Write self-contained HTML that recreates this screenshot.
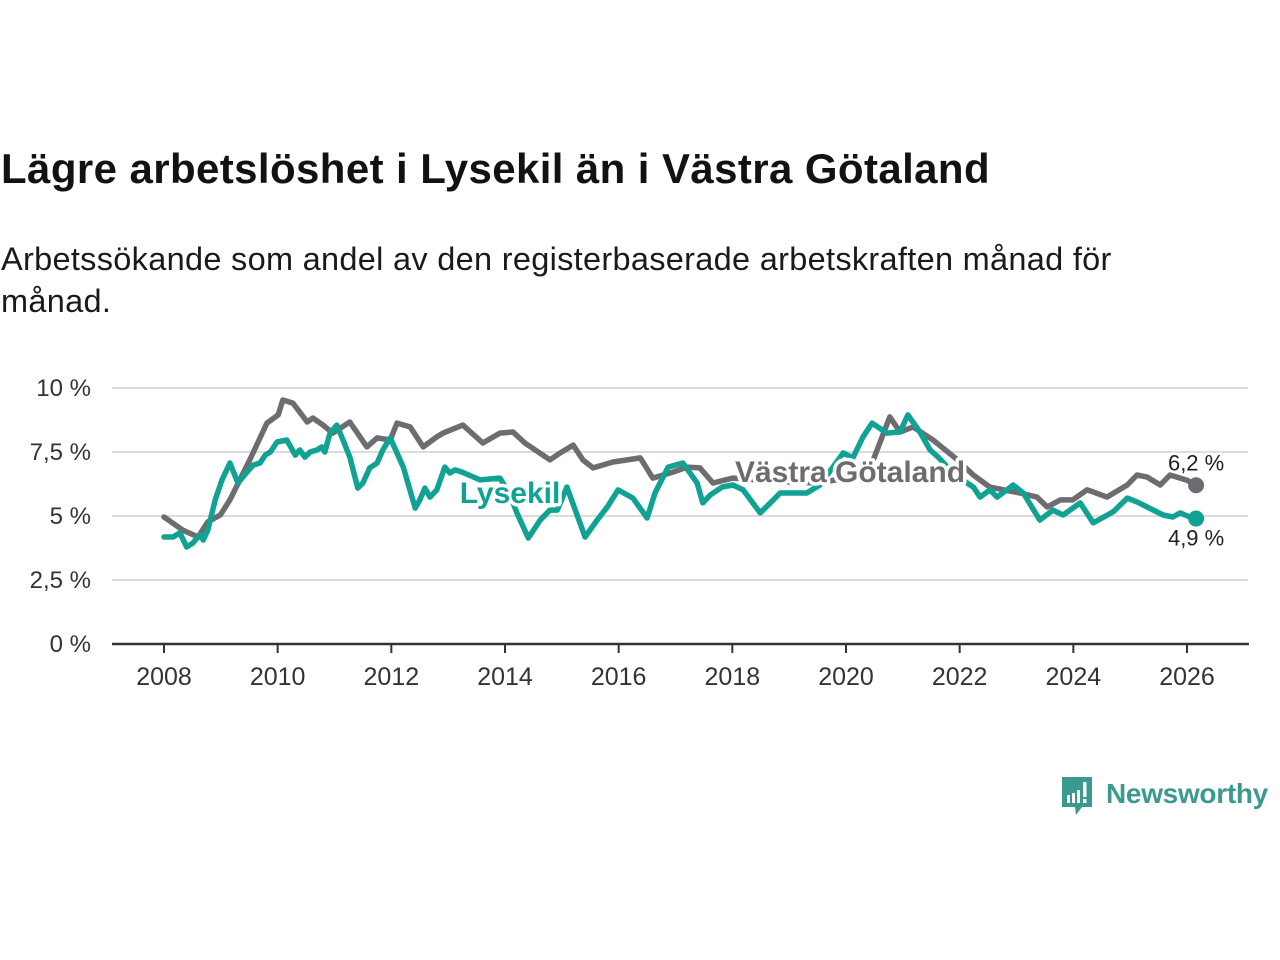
<!DOCTYPE html>
<html><head><meta charset="utf-8"><style>
body{margin:0;width:1280px;height:960px;background:#fff;font-family:"Liberation Sans",sans-serif;overflow:hidden;position:relative}
#title{position:absolute;left:1px;top:145px;font-size:42px;font-weight:bold;color:#121212;white-space:nowrap;letter-spacing:0.4px}
#sub{position:absolute;left:1px;top:238px;font-size:32.5px;color:#1a1a1a;line-height:42px;width:1175px;letter-spacing:0.3px}
svg{position:absolute;left:0;top:0}
</style></head><body>
<div id="title">Lägre arbetslöshet i Lysekil än i Västra Götaland</div>
<div id="sub">Arbetssökande som andel av den registerbaserade arbetskraften månad för månad.</div>
<svg id="chart" width="1280" height="960"></svg>
<script>
const yTicks=[0,2.5,5,7.5,10];
const yTickLabels=["0 %","2,5 %","5 %","7,5 %","10 %"];
const xTicks=[2008,2010,2012,2014,2016,2018,2020,2022,2024,2026];
const grayYears=[2008.00,2008.33,2008.60,2008.77,2008.99,2009.16,2009.51,2009.81,2010.01,2010.09,2010.27,2010.52,2010.62,2010.80,2010.97,2011.27,2011.57,2011.75,2011.98,2012.10,2012.33,2012.56,2012.80,2012.91,2013.26,2013.61,2013.91,2014.14,2014.35,2014.79,2014.97,2015.20,2015.37,2015.55,2015.90,2016.38,2016.60,2016.96,2017.20,2017.43,2017.66,2018.01,2018.52,2019.02,2019.51,2020.00,2020.48,2020.77,2020.95,2021.18,2021.53,2021.92,2022.24,2022.53,2023.06,2023.36,2023.54,2023.77,2023.99,2024.24,2024.35,2024.59,2024.95,2025.12,2025.30,2025.53,2025.70,2026.00,2026.16];
const grayValues=[4.96,4.45,4.18,4.77,5.04,5.63,7.19,8.63,8.95,9.53,9.41,8.67,8.83,8.55,8.24,8.67,7.70,8.05,7.97,8.63,8.48,7.70,8.09,8.24,8.55,7.85,8.24,8.28,7.85,7.19,7.46,7.77,7.19,6.88,7.11,7.27,6.48,6.72,6.91,6.88,6.29,6.48,6.40,6.33,6.29,6.48,7.19,8.87,8.28,8.48,7.97,7.27,6.60,6.13,5.90,5.74,5.35,5.63,5.63,6.02,5.94,5.74,6.21,6.60,6.52,6.21,6.60,6.40,6.2];
const tealYears=[2008.00,2008.16,2008.28,2008.40,2008.51,2008.63,2008.69,2008.77,2008.90,2009.02,2009.16,2009.30,2009.46,2009.57,2009.69,2009.78,2009.87,2009.99,2010.16,2010.31,2010.39,2010.48,2010.57,2010.69,2010.78,2010.83,2010.92,2011.04,2011.15,2011.27,2011.41,2011.50,2011.62,2011.75,2011.85,2011.98,2012.10,2012.21,2012.42,2012.50,2012.59,2012.68,2012.80,2012.94,2013.03,2013.12,2013.24,2013.56,2013.91,2014.09,2014.21,2014.41,2014.62,2014.79,2014.92,2015.09,2015.41,2015.62,2015.80,2015.99,2016.25,2016.50,2016.64,2016.87,2017.13,2017.38,2017.48,2017.61,2017.82,2018.01,2018.19,2018.49,2018.72,2018.84,2019.31,2019.54,2019.95,2020.12,2020.30,2020.46,2020.72,2020.95,2021.09,2021.30,2021.48,2021.62,2021.92,2022.24,2022.36,2022.53,2022.66,2022.83,2022.94,2023.12,2023.41,2023.64,2023.82,2024.12,2024.35,2024.70,2024.95,2025.12,2025.30,2025.58,2025.75,2025.88,2026.05,2026.16];
const tealValues=[4.18,4.18,4.34,3.79,3.95,4.26,4.06,4.45,5.63,6.41,7.07,6.29,6.72,6.99,7.07,7.38,7.50,7.89,7.97,7.38,7.58,7.30,7.50,7.58,7.70,7.50,8.24,8.55,7.97,7.30,6.09,6.29,6.88,7.07,7.58,8.05,7.46,6.91,5.31,5.63,6.09,5.74,6.02,6.91,6.68,6.80,6.72,6.41,6.48,5.82,5.12,4.14,4.84,5.23,5.23,6.13,4.18,4.84,5.35,6.02,5.70,4.92,5.90,6.91,7.07,6.29,5.51,5.82,6.13,6.21,6.02,5.12,5.63,5.90,5.90,6.21,7.46,7.27,8.09,8.63,8.24,8.28,8.95,8.28,7.58,7.30,6.60,6.13,5.74,6.02,5.74,6.02,6.21,5.90,4.84,5.23,5.04,5.51,4.73,5.16,5.70,5.55,5.35,5.04,4.96,5.12,4.96,4.9];
const GRAY="#6d6c71",TEAL="#10a293";
const svg=document.getElementById('chart');const NS="http://www.w3.org/2000/svg";
const X=y=>164+(y-2008)*(1187-164)/18;
const Y=v=>644-v*25.6;
function mk(t,a,parent){const e=document.createElementNS(NS,t);for(const k in a)e.setAttribute(k,a[k]);(parent||svg).appendChild(e);return e;}
yTicks.forEach((t,i)=>{
 if(t>0){const g=mk('line',{x1:112,x2:1248,y1:Y(t),y2:Y(t),stroke:'#dcdcdc','stroke-width':2});
 
 }
 const l=mk('text',{x:91,y:Y(t)+8,'text-anchor':'end','font-size':24,fill:'#333'});l.textContent=yTickLabels[i];
 
 
});
const ax=mk('line',{x1:112,x2:1249,y1:644,y2:644,stroke:'#333','stroke-width':2.5});


xTicks.forEach(t=>{
 const tk=mk('line',{x1:X(t),x2:X(t),y1:644,y2:653,stroke:'#333','stroke-width':2});
 
 
 const l=mk('text',{x:X(t),y:685,'text-anchor':'middle','font-size':25,fill:'#333'});l.textContent=t;
 
 
});
function line(xs,vs,c,name){
 const p=mk('polyline',{points:xs.map((x,i)=>X(x).toFixed(1)+','+Y(vs[i]).toFixed(1)).join(' '),fill:'none',stroke:c,'stroke-width':5.5,'stroke-linejoin':'round','stroke-linecap':'round'});
 
 
}
line(grayYears,grayValues,GRAY,'vastra-gotaland-line');
line(tealYears,tealValues,TEAL,'lysekil-line');
function lab(x,y,txt,c,size,bold,name){
 const t=mk('text',{x:x,y:y,'text-anchor':'middle','font-size':size,'font-weight':bold?'bold':'normal',fill:c,stroke:'#fff','stroke-width':bold?7:5,'paint-order':'stroke','stroke-linejoin':'round'});t.textContent=txt;
 
 
}
lab(510,503,'Lysekil',TEAL,30,true,'lysekil-label');
lab(850,482,'Västra Götaland',GRAY,30,true,'vastra-gotaland-label');
const gl=grayYears.length-1,tl=tealYears.length-1;
const d1=mk('circle',{cx:X(grayYears[gl]),cy:Y(grayValues[gl]),r:8,fill:GRAY});


const d2=mk('circle',{cx:X(tealYears[tl]),cy:Y(tealValues[tl]),r:8,fill:TEAL});


lab(X(grayYears[gl]),Y(grayValues[gl])-15,grayValues[gl].toFixed(1).replace('.',',')+' %','#222',22,false,'vastra-gotaland-end-value');
lab(X(tealYears[tl]),Y(tealValues[tl])+27,tealValues[tl].toFixed(1).replace('.',',')+' %','#222',22,false,'lysekil-end-value');
</script>
<div style="position:absolute;left:1060px;top:775px;display:flex;align-items:center">
 <svg width="34" height="44" viewBox="0 0 34 44" style="position:static">
  <path d="M2 2h30v30H22l-6 8-1-8H2z" fill="#3a9a8d"/>
  <rect x="7" y="20" width="3" height="8" fill="#fff"/><rect x="12" y="18" width="3" height="10" fill="#fff"/><rect x="17" y="15" width="3" height="13" fill="#fff"/><rect x="23" y="7" width="3.5" height="15" fill="#fff"/><rect x="23" y="24" width="3.5" height="4" fill="#fff"/>
 </svg>
 <span style="font-size:28px;font-weight:bold;color:#3a9a8d;margin-left:12px;margin-top:-6px;letter-spacing:-0.3px">Newsworthy</span>
</div>
</body></html>
